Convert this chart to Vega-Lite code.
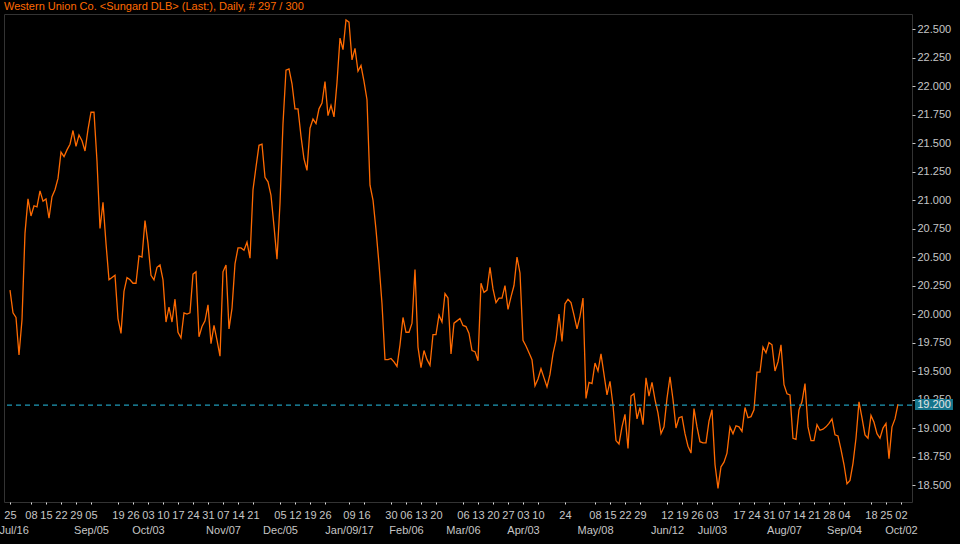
{
  "$schema": "https://vega.github.io/schema/vega-lite/v6.json",
  "width": 908,
  "height": 488,
  "autosize": {"type": "none"},
  "padding": {"left": 4, "top": 14, "right": 48, "bottom": 42},
  "background": "#000000",
  "config": {
    "view": {"stroke": "#333333", "strokeWidth": 1},
    "axis": {"grid": false, "domain": false, "labelFont": "Liberation Sans", "labelFontSize": 11, "labelColor": "#c6c6c6", "tickColor": "#d0d0d0", "labelOverlap": false, "labelBound": false, "labelFlush": false, "title": null}
  },
  "title": {"text": "Western Union Co. <Sungard DLB> (Last:), Daily, # 297 / 300", "anchor": "start", "frame": "group", "orient": "top", "offset": 3, "baseline": "alphabetic", "dy": 10, "font": "Liberation Sans", "fontSize": 11, "fontWeight": "normal", "color": "#ff6a00"},
  "datasets": {
    "price": [
    {"i":0,"v":20.21},{"i":1,"v":20.01},{"i":2,"v":19.97},{"i":3,"v":19.64},{"i":4,"v":19.95},{"i":5,"v":20.71},{"i":6,"v":21.01},{"i":7,"v":20.86},{"i":8,"v":20.95},{"i":9,"v":20.94},
    {"i":10,"v":21.08},{"i":11,"v":20.99},{"i":12,"v":21.01},{"i":13,"v":20.84},{"i":14,"v":21.03},{"i":15,"v":21.09},{"i":16,"v":21.19},{"i":17,"v":21.42},{"i":18,"v":21.38},{"i":19,"v":21.44},
    {"i":20,"v":21.49},{"i":21,"v":21.61},{"i":22,"v":21.47},{"i":23,"v":21.57},{"i":24,"v":21.52},{"i":25,"v":21.43},{"i":26,"v":21.62},{"i":27,"v":21.77},{"i":28,"v":21.77},{"i":29,"v":21.34},
    {"i":30,"v":20.75},{"i":31,"v":20.98},{"i":32,"v":20.62},{"i":33,"v":20.30},{"i":34,"v":20.32},{"i":35,"v":20.34},{"i":36,"v":19.96},{"i":37,"v":19.83},{"i":38,"v":20.20},{"i":39,"v":20.32},
    {"i":40,"v":20.30},{"i":41,"v":20.27},{"i":42,"v":20.27},{"i":43,"v":20.51},{"i":44,"v":20.50},{"i":45,"v":20.82},{"i":46,"v":20.62},{"i":47,"v":20.34},{"i":48,"v":20.30},{"i":49,"v":20.41},
    {"i":50,"v":20.43},{"i":51,"v":20.30},{"i":52,"v":19.93},{"i":53,"v":20.06},{"i":54,"v":19.93},{"i":55,"v":20.13},{"i":56,"v":19.84},{"i":57,"v":19.79},{"i":58,"v":20.01},{"i":59,"v":20.00},
    {"i":60,"v":20.01},{"i":61,"v":20.35},{"i":62,"v":20.37},{"i":63,"v":19.80},{"i":64,"v":19.89},{"i":65,"v":19.94},{"i":66,"v":20.08},{"i":67,"v":19.74},{"i":68,"v":19.90},{"i":69,"v":19.77},
    {"i":70,"v":19.63},{"i":71,"v":20.37},{"i":72,"v":20.43},{"i":73,"v":19.87},{"i":74,"v":20.05},{"i":75,"v":20.44},{"i":76,"v":20.58},{"i":77,"v":20.58},{"i":78,"v":20.56},{"i":79,"v":20.63},
    {"i":80,"v":20.49},{"i":81,"v":21.09},{"i":82,"v":21.29},{"i":83,"v":21.48},{"i":84,"v":21.49},{"i":85,"v":21.20},{"i":86,"v":21.16},{"i":87,"v":21.04},{"i":88,"v":20.77},{"i":89,"v":20.48},
    {"i":90,"v":20.97},{"i":91,"v":21.67},{"i":92,"v":22.14},{"i":93,"v":22.15},{"i":94,"v":22.02},{"i":95,"v":21.80},{"i":96,"v":21.80},{"i":97,"v":21.56},{"i":98,"v":21.36},{"i":99,"v":21.26},
    {"i":100,"v":21.63},{"i":101,"v":21.71},{"i":102,"v":21.67},{"i":103,"v":21.80},{"i":104,"v":21.85},{"i":105,"v":22.04},{"i":106,"v":21.74},{"i":107,"v":21.83},{"i":108,"v":21.73},{"i":109,"v":22.03},
    {"i":110,"v":22.42},{"i":111,"v":22.32},{"i":112,"v":22.58},{"i":113,"v":22.56},{"i":114,"v":22.23},{"i":115,"v":22.33},{"i":116,"v":22.13},{"i":117,"v":22.18},{"i":118,"v":22.04},{"i":119,"v":21.88},
    {"i":120,"v":21.13},{"i":121,"v":21.00},{"i":122,"v":20.74},{"i":123,"v":20.44},{"i":124,"v":20.09},{"i":125,"v":19.60},{"i":126,"v":19.60},{"i":127,"v":19.61},{"i":128,"v":19.58},{"i":129,"v":19.54},
    {"i":130,"v":19.73},{"i":131,"v":19.97},{"i":132,"v":19.84},{"i":133,"v":19.84},{"i":134,"v":19.92},{"i":135,"v":20.39},{"i":136,"v":19.71},{"i":137,"v":19.53},{"i":138,"v":19.68},{"i":139,"v":19.60},
    {"i":140,"v":19.55},{"i":141,"v":19.82},{"i":142,"v":19.82},{"i":143,"v":19.99},{"i":144,"v":19.93},{"i":145,"v":20.18},{"i":146,"v":20.14},{"i":147,"v":19.65},{"i":148,"v":19.92},{"i":149,"v":19.94},
    {"i":150,"v":19.96},{"i":151,"v":19.90},{"i":152,"v":19.89},{"i":153,"v":19.83},{"i":154,"v":19.68},{"i":155,"v":19.67},{"i":156,"v":19.59},{"i":157,"v":20.27},{"i":158,"v":20.19},{"i":159,"v":20.21},
    {"i":160,"v":20.41},{"i":161,"v":20.22},{"i":162,"v":20.10},{"i":163,"v":20.14},{"i":164,"v":20.14},{"i":165,"v":20.25},{"i":166,"v":20.04},{"i":167,"v":20.15},{"i":168,"v":20.25},{"i":169,"v":20.50},
    {"i":170,"v":20.36},{"i":171,"v":19.77},{"i":172,"v":19.72},{"i":173,"v":19.66},{"i":174,"v":19.60},{"i":175,"v":19.37},{"i":176,"v":19.43},{"i":177,"v":19.52},{"i":178,"v":19.44},{"i":179,"v":19.36},
    {"i":180,"v":19.47},{"i":181,"v":19.65},{"i":182,"v":19.77},{"i":183,"v":20.00},{"i":184,"v":19.76},{"i":185,"v":20.09},{"i":186,"v":20.13},{"i":187,"v":20.10},{"i":188,"v":19.99},{"i":189,"v":19.87},
    {"i":190,"v":19.98},{"i":191,"v":20.14},{"i":192,"v":19.26},{"i":193,"v":19.40},{"i":194,"v":19.39},{"i":195,"v":19.57},{"i":196,"v":19.50},{"i":197,"v":19.65},{"i":198,"v":19.47},{"i":199,"v":19.29},
    {"i":200,"v":19.41},{"i":201,"v":19.20},{"i":202,"v":18.89},{"i":203,"v":18.86},{"i":204,"v":19.01},{"i":205,"v":19.12},{"i":206,"v":18.82},{"i":207,"v":19.28},{"i":208,"v":19.30},{"i":209,"v":19.08},
    {"i":210,"v":19.18},{"i":211,"v":19.03},{"i":212,"v":19.44},{"i":213,"v":19.28},{"i":214,"v":19.40},{"i":215,"v":19.25},{"i":216,"v":19.13},{"i":217,"v":18.95},{"i":218,"v":19.01},{"i":219,"v":19.26},
    {"i":220,"v":19.45},{"i":221,"v":19.25},{"i":222,"v":19.00},{"i":223,"v":19.09},{"i":224,"v":19.10},{"i":225,"v":18.95},{"i":226,"v":18.84},{"i":227,"v":18.78},{"i":228,"v":19.17},{"i":229,"v":19.01},
    {"i":230,"v":18.88},{"i":231,"v":18.87},{"i":232,"v":18.87},{"i":233,"v":19.06},{"i":234,"v":19.16},{"i":235,"v":18.68},{"i":236,"v":18.47},{"i":237,"v":18.66},{"i":238,"v":18.70},{"i":239,"v":18.78},
    {"i":240,"v":19.01},{"i":241,"v":18.95},{"i":242,"v":19.02},{"i":243,"v":19.01},{"i":244,"v":18.97},{"i":245,"v":19.18},{"i":246,"v":19.09},{"i":247,"v":19.10},{"i":248,"v":19.16},{"i":249,"v":19.49},
    {"i":250,"v":19.49},{"i":251,"v":19.71},{"i":252,"v":19.66},{"i":253,"v":19.75},{"i":254,"v":19.73},{"i":255,"v":19.50},{"i":256,"v":19.58},{"i":257,"v":19.73},{"i":258,"v":19.38},{"i":259,"v":19.30},
    {"i":260,"v":19.29},{"i":261,"v":18.91},{"i":262,"v":18.90},{"i":263,"v":19.16},{"i":264,"v":19.23},{"i":265,"v":19.39},{"i":266,"v":19.01},{"i":267,"v":18.89},{"i":268,"v":18.89},{"i":269,"v":19.03},
    {"i":270,"v":18.98},{"i":271,"v":18.99},{"i":272,"v":19.01},{"i":273,"v":19.04},{"i":274,"v":19.08},{"i":275,"v":18.94},{"i":276,"v":18.93},{"i":277,"v":18.81},{"i":278,"v":18.68},{"i":279,"v":18.51},
    {"i":280,"v":18.54},{"i":281,"v":18.69},{"i":282,"v":18.91},{"i":283,"v":19.23},{"i":284,"v":19.09},{"i":285,"v":18.94},{"i":286,"v":18.91},{"i":287,"v":19.11},{"i":288,"v":19.05},{"i":289,"v":18.95},
    {"i":290,"v":18.91},{"i":291,"v":19.00},{"i":292,"v":19.04},{"i":293,"v":18.73},{"i":294,"v":19.01},{"i":295,"v":19.08},{"i":296,"v":19.21}
    ],
    "last": [{"label": "19.200", "v": 19.2}]
  },
  "layer": [
    {
      "data": {"name": "price"},
      "mark": {"type": "line", "color": "#ff6a00", "strokeWidth": 1.3, "clip": true},
      "encoding": {
        "x": {"field": "i", "type": "quantitative", "scale": {"domain": [-2, 300.67], "nice": false, "zero": false},
          "axis": {"orient": "bottom", "values": [0,7,12,17,22,27,36,41,46,51,56,61,66,71,76,81,90,95,100,105,113,118,127,132,137,142,151,156,161,166,171,176,185,195,200,205,210,219,224,229,234,243,248,253,258,263,268,273,278,287,292,297],
            "labelExpr": "['25','08','15','22','29','05','19','26','03','10','17','24','31','07','14','21','05','12','19','26','09','16','30','06','13','20','06','13','20','27','03','10','24','08','15','22','29','12','19','26','03','17','24','31','07','14','21','28','04','18','25','02'][indexof([0,7,12,17,22,27,36,41,46,51,56,61,66,71,76,81,90,95,100,105,113,118,127,132,137,142,151,156,161,166,171,176,185,195,200,205,210,219,224,229,234,243,248,253,258,263,268,273,278,287,292,297], datum.value)]",
            "tickSize": 2, "labelPadding": 5, "tickColor": "#e0e0e0"}},
        "y": {"field": "v", "type": "quantitative", "scale": {"domain": [18.351, 22.632], "nice": false, "zero": false},
          "axis": {"orient": "right", "values": [18.5,18.75,19,19.25,19.5,19.75,20,20.25,20.5,20.75,21,21.25,21.5,21.75,22,22.25,22.5], "format": ".3f", "tickSize": 3, "labelPadding": 2, "tickColor": "#c6c6c6"}}
      }
    },
    {
      "data": {"name": "last"},
      "mark": {"type": "rule", "color": "#1f9ab8", "strokeWidth": 1.2, "strokeDash": [5, 4]},
      "encoding": {
        "y": {"field": "v", "type": "quantitative", "scale": {"domain": [18.351, 22.632], "nice": false, "zero": false},
          "axis": {"orient": "right", "values": [18.5,18.75,19,19.25,19.5,19.75,20,20.25,20.5,20.75,21,21.25,21.5,21.75,22,22.25,22.5], "format": ".3f", "tickSize": 3, "labelPadding": 2, "tickColor": "#c6c6c6"}}
      }
    },
    {
      "data": {"name": "last"},
      "mark": {"type": "rect", "color": "#16758c", "clip": false},
      "encoding": {
        "x": {"datum": 301.67, "type": "quantitative", "scale": {"domain": [-2, 300.67], "nice": false, "zero": false},
          "axis": {"orient": "bottom", "values": [1.2,27,46,71,90,113,132,151,171,195,219,234,258,278,297],
            "labelExpr": "['Jul/16','Sep/05','Oct/03','Nov/07','Dec/05','Jan/09/17','Feb/06','Mar/06','Apr/03','May/08','Jun/12','Jul/03','Aug/07','Sep/04','Oct/02'][indexof([1.2,27,46,71,90,113,132,151,171,195,219,234,258,278,297], datum.value)]",
            "ticks": false, "tickSize": 0, "labelPadding": 22}},
        "x2": {"datum": 314.33},
        "y": {"datum": 19.254, "type": "quantitative", "scale": {"domain": [18.351, 22.632], "nice": false, "zero": false},
          "axis": {"orient": "right", "values": [18.5,18.75,19,19.25,19.5,19.75,20,20.25,20.5,20.75,21,21.25,21.5,21.75,22,22.25,22.5], "format": ".3f", "tickSize": 3, "labelPadding": 2, "tickColor": "#c6c6c6"}},
        "y2": {"datum": 19.158}
      }
    },
    {
      "data": {"name": "last"},
      "mark": {"type": "text", "color": "#e6e6e6", "font": "Liberation Sans", "fontSize": 11, "align": "center", "baseline": "middle", "clip": false},
      "encoding": {
        "x": {"datum": 308, "type": "quantitative", "scale": {"domain": [-2, 300.67], "nice": false, "zero": false}, "axis": null},
        "y": {"field": "v", "type": "quantitative", "scale": {"domain": [18.351, 22.632], "nice": false, "zero": false},
          "axis": {"orient": "right", "values": [18.5,18.75,19,19.25,19.5,19.75,20,20.25,20.5,20.75,21,21.25,21.5,21.75,22,22.25,22.5], "format": ".3f", "tickSize": 3, "labelPadding": 2, "tickColor": "#c6c6c6"}},
        "text": {"field": "label"}
      }
    }
  ],
  "resolve": {"axis": {"x": "independent"}}
}
